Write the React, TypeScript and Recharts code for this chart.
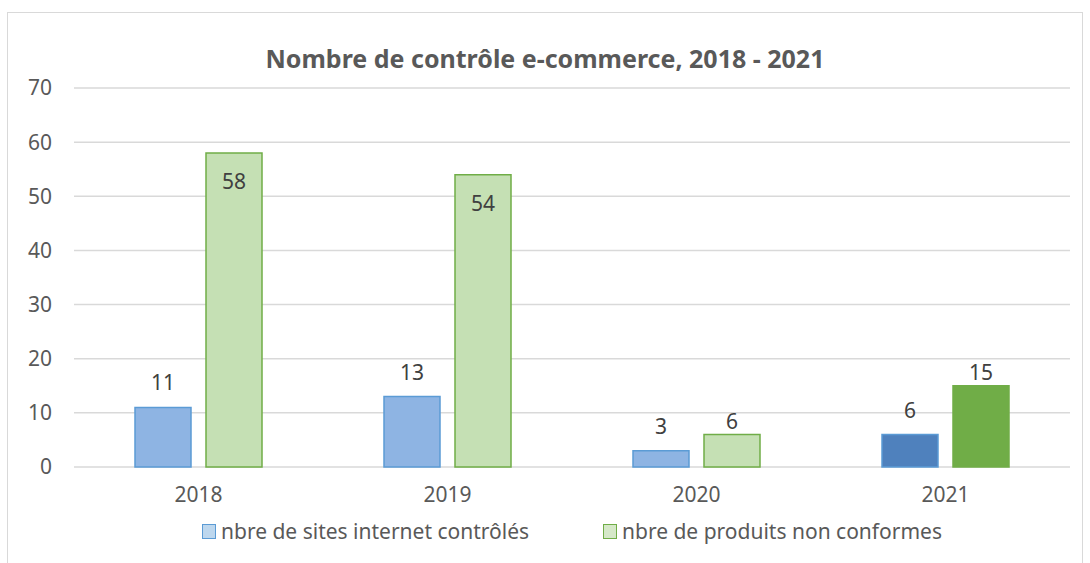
import React from "react";
import { BarChart, Bar, XAxis, YAxis, CartesianGrid, Cell } from "recharts";

const years = ["2018", "2019", "2020", "2021"];
const sitesControles = [11, 13, 3, 6];
const produitsNonConformes = [58, 54, 6, 15];
const yTicks = [0, 10, 20, 30, 40, 50, 60, 70];

const data = years.map((year, i) => ({
  year,
  sites: sitesControles[i],
  produits: produitsNonConformes[i],
}));

const FONT = "'Noto Sans', 'Open Sans', sans-serif";
const lastIndex = years.length - 1;

const SitesLabel = (props: any) => {
  const { x, y, width, value } = props;
  return (
    <text
      x={x + width / 2}
      y={y - 25}
      textAnchor="middle"
      dominantBaseline="central"
      fill="#404040"
      fontSize={21}
      fontFamily={FONT}
    >
      {value}
    </text>
  );
};

const ProduitsLabel = (props: any) => {
  const { x, y, width, value } = props;
  // big bars get the label inside the top, small ones just above
  const inside = value > 30;
  return (
    <text
      x={x + width / 2}
      y={inside ? y + 28 : y - 14}
      textAnchor="middle"
      dominantBaseline="central"
      fill="#404040"
      fontSize={21}
      fontFamily={FONT}
    >
      {value}
    </text>
  );
};

const LegendItem = ({
  fill,
  stroke,
  label,
  left,
}: {
  fill: string;
  stroke: string;
  label: string;
  left: number;
}) => (
  <div
    style={{
      position: "absolute",
      left,
      top: 518,
      display: "flex",
      alignItems: "center",
      fontSize: 21,
      color: "#595959",
      lineHeight: "26px",
      whiteSpace: "nowrap",
    }}
  >
    <div
      style={{
        width: 12,
        height: 13,
        background: fill,
        border: `1px solid ${stroke}`,
        marginRight: 5,
      }}
    />
    <span>{label}</span>
  </div>
);

export default function App() {
  return (
    <div
      style={{
        position: "absolute",
        left: 0,
        top: 0,
        width: 1090,
        height: 563,
        overflow: "hidden",
        background: "#fff",
        fontFamily: FONT,
      }}
    >
      <div
        style={{
          position: "absolute",
          left: 7,
          top: 12,
          width: 1074,
          height: 620,
          border: "1px solid #d9d9d9",
        }}
      />
      <div
        style={{
          position: "absolute",
          left: 0,
          top: 42,
          width: 1090,
          textAlign: "center",
          fontSize: 25,
          fontWeight: "bold",
          color: "#595959",
          lineHeight: "32px",
        }}
      >
        Nombre de contrôle e-commerce, 2018 - 2021
      </div>
      <BarChart
        width={1090}
        height={563}
        data={data}
        margin={{ top: 88, right: 20, left: 0, bottom: 66 }}
        barSize={56}
        barGap={15}
        style={{ position: "absolute", left: 0, top: 0 }}
      >
        <CartesianGrid vertical={false} stroke="#d9d9d9" strokeWidth={1.5} />
        <XAxis
          dataKey="year"
          height={30}
          axisLine={false}
          tickLine={false}
          tickSize={0}
          tickMargin={20}
          tick={{ fill: "#595959", fontSize: 21, fontFamily: FONT }}
        />
        <YAxis
          width={74}
          domain={[0, 70]}
          ticks={yTicks}
          axisLine={false}
          tickLine={false}
          tickSize={0}
          tickMargin={22}
          tick={{ fill: "#595959", fontSize: 21, fontFamily: FONT }}
        />
        <Bar dataKey="sites" isAnimationActive={false} strokeWidth={1.5} label={<SitesLabel />}>
          {data.map((d, i) => (
            <Cell
              key={d.year}
              fill={i === lastIndex ? "#4f81bd" : "#8eb4e3"}
              stroke="#5b9bd5"
            />
          ))}
        </Bar>
        <Bar dataKey="produits" isAnimationActive={false} strokeWidth={1.5} label={<ProduitsLabel />}>
          {data.map((d, i) => (
            <Cell
              key={d.year}
              fill={i === lastIndex ? "#70ad47" : "#c5e0b4"}
              stroke="#70ad47"
            />
          ))}
        </Bar>
      </BarChart>
      <LegendItem left={202} fill="#bdd7ee" stroke="#5b9bd5" label="nbre de sites internet contrôlés" />
      <LegendItem left={603} fill="#d5e8c8" stroke="#70ad47" label="nbre de produits non conformes" />
    </div>
  );
}
